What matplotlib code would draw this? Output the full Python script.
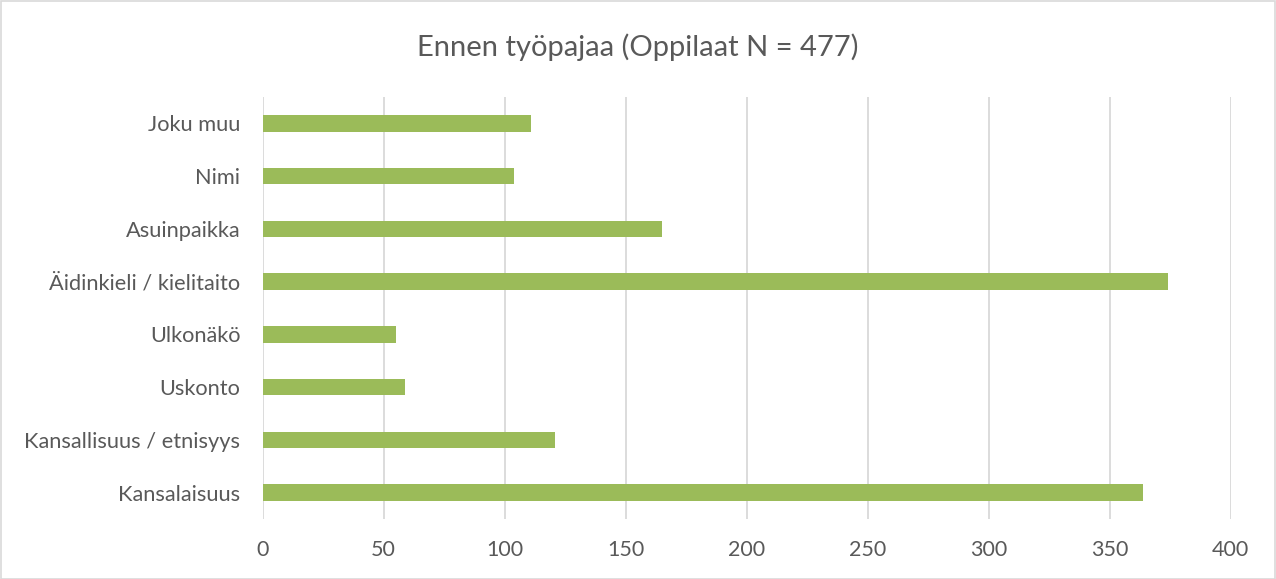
import matplotlib
matplotlib.use("Agg")
import matplotlib.pyplot as plt
from matplotlib.patches import Rectangle

categories = ["Kansalaisuus", "Kansallisuus / etnisyys", "Uskonto", "Ulkonäkö",
              "Äidinkieli / kielitaito", "Asuinpaikka", "Nimi", "Joku muu"]
values = [364, 121, 59, 55, 374, 165, 104, 111]
xticks = [0, 50, 100, 150, 200, 250, 300, 350, 400]
title = "Ennen työpajaa (Oppilaat N = 477)"

plt.rcParams['font.family'] = ['Lato', 'DejaVu Sans']
fig = plt.figure(figsize=(12.76, 5.79), dpi=100)
ax = fig.add_axes([262.5/1276, 1-519/579, (1230.5-262.5)/1276, (519-97)/579])

ypos = list(range(len(categories)))
ax.barh(ypos, values, height=0.31, color="#9BBB59", zorder=3)
ax.set_xlim(0, 400)
ax.set_ylim(-0.5, len(categories)-0.5)
ax.set_xticks(xticks)
ax.set_xticklabels([str(t) for t in xticks], fontsize=15.5, color="#595959")
ax.set_yticks(ypos)
ax.set_yticklabels(categories, fontsize=15.7, color="#595959")
ax.tick_params(axis='y', length=0, pad=16)
ax.tick_params(axis='x', length=0, pad=15)
ax.grid(axis='x', color="#d9d9d9", linewidth=1.3, zorder=0)
for s in ax.spines.values():
    s.set_visible(False)

fig.text(0.5, 1-47/579, title, ha='center', va='center', fontsize=21, color="#595959")
fig.patches.append(Rectangle((0.5/1276, 0.5/579), 1-1.5/1276, 1-1.5/579, transform=fig.transFigure,
                             fill=False, edgecolor="#d9d9d9", linewidth=1.2))
fig.savefig("out.png", dpi=100)
